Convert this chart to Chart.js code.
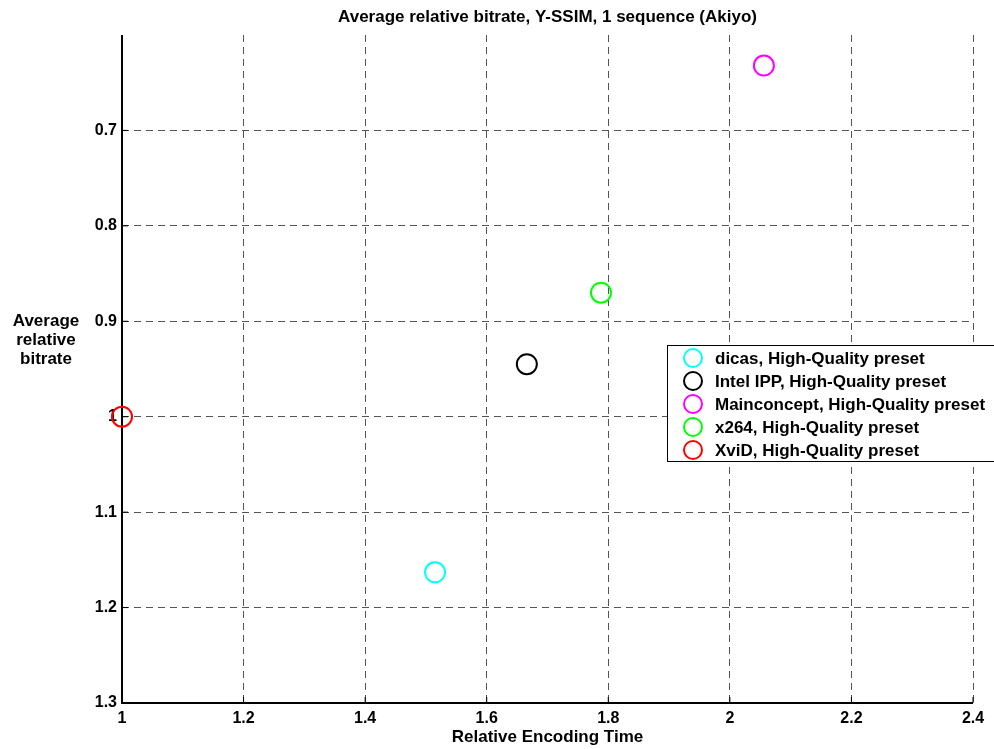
<!DOCTYPE html>
<html>
<head>
<meta charset="utf-8">
<script src="https://cdn.jsdelivr.net/npm/chart.js@4/dist/chart.umd.min.js"></script>
<style>
html,body{margin:0;padding:0;background:#fff;}
#wrap{position:relative;width:994px;height:749px;}
</style>
</head>
<body>
<div id="wrap"><canvas id="c" width="994" height="749"></canvas></div>
<script>
// ---- data ----
const seriesNames = [
  "dicas, High-Quality preset",
  "Intel IPP, High-Quality preset",
  "Mainconcept, High-Quality preset",
  "x264, High-Quality preset",
  "XviD, High-Quality preset"
];
const encodingTime = [1.515, 1.666, 2.056, 1.788, 1.0];
const relativeBitrate = [1.163, 0.945, 0.632, 0.870, 1.0];
const seriesColors = ["#00FFFF", "#000000", "#FF00FF", "#00FF00", "#FF0000"];
const xTickLabels = ["1", "1.2", "1.4", "1.6", "1.8", "2", "2.2", "2.4"];
const yTickLabels = ["0.7", "0.8", "0.9", "1", "1.1", "1.2", "1.3"];
const titleText = "Average relative bitrate, Y-SSIM, 1 sequence (Akiyo)";
const xTitle = "Relative Encoding Time";
const yTitleLines = ["Average", "relative", "bitrate"];

const FONT = "'Liberation Sans', Arial, sans-serif";

function labelFor(v, list) {
  for (const l of list) { if (Math.abs(parseFloat(l) - v) < 1e-6) return l; }
  return "";
}

const datasets = seriesNames.map((n, i) => ({
  label: n,
  data: [{x: encodingTime[i], y: relativeBitrate[i]}],
  borderColor: seriesColors[i],
  backgroundColor: "rgba(0,0,0,0)",
  pointRadius: 10,
  pointHoverRadius: 10,
  pointBorderWidth: 2,
  pointStyle: "circle",
  showLine: false,
  clip: false
}));

const decor = {
  id: "decor",
  beforeDatasetsDraw(chart) {
    const ctx = chart.ctx;
    const a = chart.chartArea;
    const xs = chart.scales.x, ys = chart.scales.y;
    ctx.save();
    ctx.strokeStyle = "#000";
    ctx.lineWidth = 2;
    ctx.setLineDash([]);
    ctx.beginPath();
    ctx.moveTo(a.left, a.top);
    ctx.lineTo(a.left, a.bottom);
    ctx.lineTo(a.right, a.bottom);
    ctx.stroke();
    ctx.lineWidth = 1;
    xs.ticks.forEach(t => {
      const px = xs.getPixelForValue(t.value);
      ctx.beginPath(); ctx.moveTo(px, a.bottom); ctx.lineTo(px, a.bottom - 6); ctx.stroke();
    });
    ys.ticks.forEach(t => {
      if (!labelFor(t.value, yTickLabels)) return;
      const py = ys.getPixelForValue(t.value);
      ctx.beginPath(); ctx.moveTo(a.left, py); ctx.lineTo(a.left + 6, py); ctx.stroke();
    });
    ctx.restore();
  },
  afterDraw(chart) {
    const ctx = chart.ctx;
    const a = chart.chartArea;
    ctx.save();
    ctx.fillStyle = "#000";
    ctx.font = "bold 17px " + FONT;
    ctx.textAlign = "center";
    ctx.textBaseline = "middle";
    ctx.fillText(titleText, (a.left + a.right) / 2, 17);
    yTitleLines.forEach((l, i) => ctx.fillText(l, 46, 321 + i * 19));
    // legend
    const lx = 667, ly = 345, lw = 332, lh = 116;
    ctx.fillStyle = "#fff";
    ctx.fillRect(lx, ly, lw, lh);
    ctx.strokeStyle = "#000";
    ctx.lineWidth = 1;
    ctx.strokeRect(lx + 0.5, ly + 0.5, lw, lh);
    ctx.textAlign = "left";
    ctx.font = "bold 17px " + FONT;
    seriesNames.forEach((n, i) => {
      const cy = ly + 13 + i * 23;
      ctx.strokeStyle = seriesColors[i];
      ctx.lineWidth = 2;
      ctx.beginPath(); ctx.arc(693, cy, 9, 0, Math.PI * 2); ctx.stroke();
      ctx.fillStyle = "#000";
      ctx.fillText(n, 715, cy + 1);
    });
    ctx.restore();
  }
};

new Chart(document.getElementById("c"), {
  type: "scatter",
  data: { datasets },
  options: {
    responsive: false,
    animation: false,
    layout: { padding: { top: 35, right: 21, left: 0, bottom: 0 } },
    plugins: { legend: { display: false }, title: { display: false }, tooltip: { enabled: false } },
    scales: {
      x: {
        type: "linear",
        min: 1, max: 2.4,
        afterFit(s) { s.height = 46; },
        ticks: {
          stepSize: 0.2,
          padding: 6,
          color: "#000",
          font: { family: FONT, size: 16, weight: "bold" },
          callback: v => labelFor(v, xTickLabels),
          maxRotation: 0, autoSkip: false
        },
        grid: { color: "#555", lineWidth: 1, drawTicks: false },
        border: { display: false, dash: [7, 5] },
        title: { display: true, text: xTitle, color: "#000", font: { family: FONT, size: 17, weight: "bold" }, padding: { top: 0, bottom: 1 } }
      },
      y: {
        type: "linear",
        reverse: true,
        min: 0.6, max: 1.3,
        afterFit(s) { s.width = 122; },
        ticks: {
          stepSize: 0.1,
          padding: 5,
          color: "#000",
          font: { family: FONT, size: 16, weight: "bold" },
          callback: v => labelFor(v, yTickLabels),
          autoSkip: false
        },
        grid: {
          color: ctx => (ctx.tick && labelFor(ctx.tick.value, yTickLabels)) ? "#555" : "rgba(0,0,0,0)",
          lineWidth: 1, drawTicks: false
        },
        border: { display: false, dash: [7, 5] }
      }
    }
  },
  plugins: [decor]
});
</script>
</body>
</html>
